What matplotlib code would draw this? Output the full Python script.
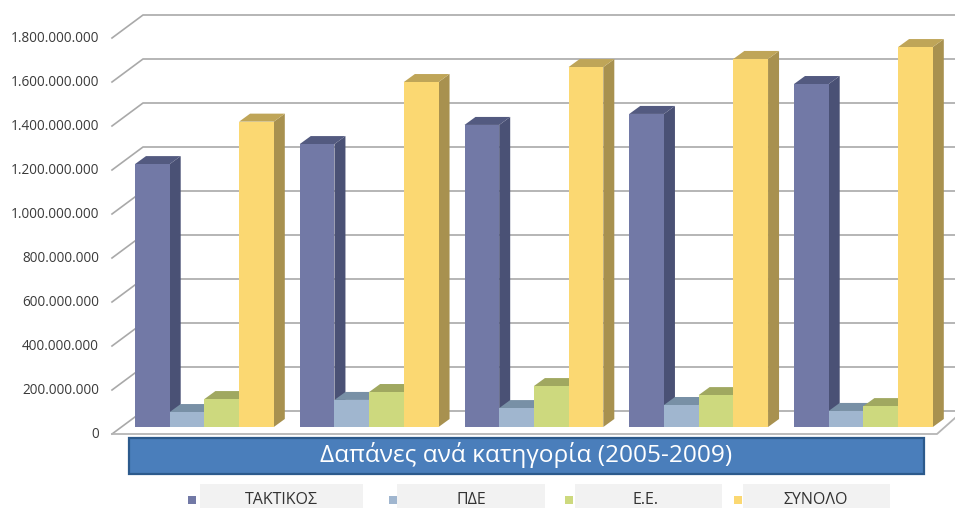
import matplotlib
matplotlib.use("Agg")
import matplotlib.pyplot as plt
from matplotlib.patches import Polygon, Rectangle
from matplotlib.transforms import ScaledTranslation

plt.rcParams['font.family'] = ['Open Sans', 'DejaVu Sans']

W, H = 955, 508
years = ['2005', '2006', '2007', '2008', '2009']
series = ['ΤΑΚΤΙΚΟΣ', 'ΠΔΕ', 'Ε.Ε.', 'ΣΥΝΟΛΟ']
taktikos = [1195e6, 1286e6, 1373e6, 1423e6, 1559e6]
pde = [68e6, 123e6, 86e6, 100e6, 73e6]
ee = [127e6, 159e6, 186e6, 145e6, 95e6]
synolo = [1388e6, 1568e6, 1636e6, 1673e6, 1727e6]
ticks = [0, 200e6, 400e6, 600e6, 800e6, 1000e6, 1200e6, 1400e6, 1600e6, 1800e6]
tick_labels = ['0', '200.000.000', '400.000.000', '600.000.000', '800.000.000',
               '1.000.000.000', '1.200.000.000', '1.400.000.000', '1.600.000.000', '1.800.000.000']
title = 'Δαπάνες ανά κατηγορία (2005-2009)'

front = ['#7279a6', '#a0b6cf', '#cdd97e', '#fbd872']
side = ['#4a5175', '#74889c', '#96a05a', '#a8914f']
top = ['#535a80', '#7890a6', '#a0a860', '#bfa558']

# pixel geometry of the chart frame
L, R, Y0, Y18 = 112, 955, 434, 38
group_px = 164.75
bar_px = 34.7
x0_px = 204.4
px_x = 1 / group_px
px_y = 1800e6 / (Y0 - Y18)
DX, DY = 11 * px_x, 8 * px_y          # depth of a bar
BDX, BDY = 31 * px_x, 23 * px_y       # depth of the walls
PLANE = 7 * px_y                      # bar plane stands above the front edge
w = bar_px * px_x

fig = plt.figure(figsize=(W / 100, H / 100), dpi=100, facecolor='white')
ax = fig.add_axes([L / W, (H - Y0) / H, (R - L) / W, (Y0 - Y18) / H])
ax.set_xlim((L - x0_px) * px_x, (R - x0_px) * px_x)
ax.set_ylim(0, 1800e6)
ax.patch.set_visible(False)
for s in ax.spines.values():
    s.set_visible(False)

ax.set_xticks([])
ax.set_yticks(ticks)
ax.set_yticklabels(tick_labels, fontsize=9.8, color='#3a3a3a')
ax.tick_params(axis='y', length=0, pad=9.4)
shift = ScaledTranslation(0, 1 / 72, fig.dpi_scale_trans)
for lab in ax.get_yticklabels():
    lab.set_transform(lab.get_transform() + shift)

xl, xr = ax.get_xlim()
grid = '#a9a9a9'
for t in ticks:
    ax.plot([xl, xl + BDX, xr], [t, t + BDY, t + BDY], color=grid, lw=1.2, zorder=1,
            clip_on=False, solid_joinstyle='round')
floor_r = xl + (937 - L) * px_x
ax.plot([xl, floor_r, floor_r + 18 * px_x], [0, 0, 16 * px_y], color='#b5b5b5', lw=1.3, zorder=1.5,
        clip_on=False)

values = [taktikos, pde, ee, synolo]
z = 2
for g in range(len(years)):
    for j, vals in enumerate(values):
        v = vals[g]
        xc = g + (j - 1.5) * w
        a, b = xc - w / 2, xc + w / 2
        bot, tp = PLANE, PLANE + v
        ax.add_patch(Polygon([(b, bot), (b + DX, bot + DY), (b + DX, tp + DY), (b, tp)],
                             closed=True, facecolor=side[j], edgecolor='none', zorder=z))
        ax.add_patch(Polygon([(a, tp), (a + DX, tp + DY), (b + DX, tp + DY), (b, tp)],
                             closed=True, facecolor=top[j], edgecolor='none', zorder=z))
        ax.bar(xc, v, width=w, bottom=PLANE, color=front[j], linewidth=0, zorder=z + 0.5)
        z += 1

# title banner
fig.add_artist(Rectangle((129 / W, (H - 474) / H), (924 - 129) / W, (474 - 438) / H,
                         transform=fig.transFigure, facecolor='#4a7ebb', edgecolor='#2c5a8c', lw=1.6))
fig.text(526.5 / W, (H - 455) / H, title, color='white', fontsize=17.6, ha='center', va='center')

# legend row
boxes = [(200, 363), (397, 545), (575, 722), (743, 890)]
marks = [192, 393, 569, 738]
centers = [281.5, 471, 646, 816]
for j, name in enumerate(series):
    b0, b1 = boxes[j]
    fig.add_artist(Rectangle((b0 / W, 0), (b1 - b0) / W, (H - 484) / H, transform=fig.transFigure,
                             facecolor='#f2f2f2', edgecolor='none'))
    fig.add_artist(Rectangle(((marks[j] - 4) / W, (H - 504) / H), 8 / W, 8 / H, transform=fig.transFigure,
                             facecolor=front[j], edgecolor='none'))
    fig.text(centers[j] / W, (H - 500) / H, name, color='#333333', fontsize=11.5, ha='center', va='center')

fig.savefig('out.png', dpi=100)
